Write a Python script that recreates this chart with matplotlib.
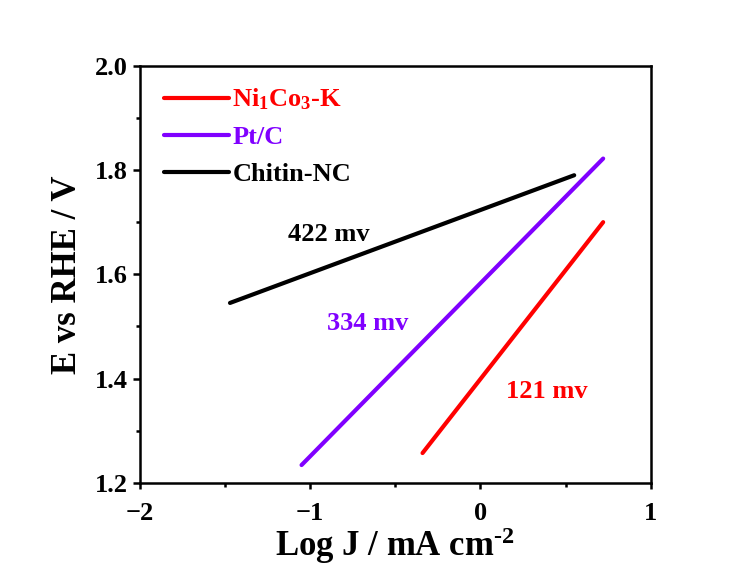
import matplotlib
matplotlib.use("Agg")
import matplotlib.pyplot as plt

plt.rcParams['font.family'] = 'Liberation Serif'
plt.rcParams['font.weight'] = 'bold'
plt.rcParams['mathtext.fontset'] = 'custom'
plt.rcParams['mathtext.rm'] = 'Liberation Serif:bold'
plt.rcParams['mathtext.bf'] = 'Liberation Serif:bold'
plt.rcParams['mathtext.default'] = 'rm'

# Tafel fits: end points of each fitted line (log J, E)
labels = [r'Ni$_1$Co$_3$-K', 'Pt/C', 'Chitin-NC']
colors = ['#ff0000', '#8000ff', '#000000']
log_j = [[-0.34, 0.72], [-1.05, 0.72], [-1.47, 0.55]]
e_rhe = [[1.257, 1.700], [1.234, 1.822], [1.545, 1.790]]

# overpotential labels and where they sit
slopes = ['121 mv', '334 mv', '422 mv']
slope_x = [0.39, -0.66, -0.89]
slope_y = [1.376, 1.505, 1.676]

fig = plt.figure(figsize=(7.43, 5.72), dpi=100)
ax = fig.add_axes([0.188, 0.156, 0.688, 0.729])

for x, y, c, lab in zip(log_j, e_rhe, colors, labels):
    ax.plot(x, y, color=c, lw=3, solid_capstyle='round', label=lab)

for s, x, y, c in zip(slopes, slope_x, slope_y, colors):
    ax.text(x, y, s, color=c, fontsize=19, fontweight='bold', ha='center', va='center')

ax.set_xlim(-2, 1)
ax.set_ylim(1.2, 2.0)
ax.set_xticks([-2, -1, 0, 1])
ax.set_xticks([-1.5, -0.5, 0.5], minor=True)
ax.set_yticks([1.2, 1.4, 1.6, 1.8, 2.0])
ax.set_yticks([1.3, 1.5, 1.7, 1.9], minor=True)
ax.set_yticklabels(['1.2', '1.4', '1.6', '1.8', '2.0'])

for sp in ax.spines.values():
    sp.set_linewidth(1.8)
ax.tick_params(which='major', direction='out', length=5, width=1.8, labelsize=19)
ax.tick_params(which='minor', direction='out', length=3, width=1.8)
ax.tick_params(axis='x', which='major', length=4, pad=10)

ax.set_xlabel('Log J / mA cm$^{\u2010 2}$', fontsize=25, fontweight='bold', labelpad=0)
ax.set_ylabel('E vs RHE / V', fontsize=25, fontweight='bold', labelpad=8)

ax.legend(loc='upper left', frameon=False, handlelength=2.45,
          handletextpad=0.15, labelspacing=0.5, borderaxespad=0.4,
          bbox_to_anchor=(0.006, 1.0),
          labelcolor='linecolor', prop={'weight': 'bold', 'size': 19})

plt.savefig('out.png', dpi=100)
